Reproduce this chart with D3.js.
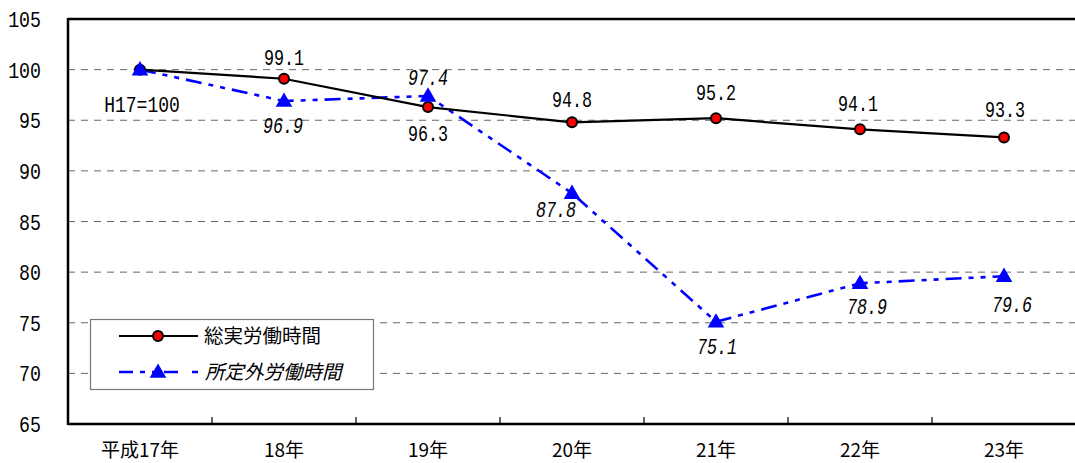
<!DOCTYPE html>
<html>
<head>
<meta charset="utf-8">
<script src="https://cdn.jsdelivr.net/npm/d3@7"></script>
<style>
  html, body { margin: 0; padding: 0; background: #fff; }
  svg { display: block; }
</style>
</head>
<body>
<svg id="chart" width="1075" height="463"></svg>
<script>
// ---- data ----
const categories = ["平成17年", "18年", "19年", "20年", "21年", "22年", "23年"];
const totalHours = [100, 99.1, 96.3, 94.8, 95.2, 94.1, 93.3];        // 総実労働時間 (H17=100)
const overtimeHours = [100, 96.9, 97.4, 87.8, 75.1, 78.9, 79.6];     // 所定外労働時間 (H17=100)
const yTicks = [65, 70, 75, 80, 85, 90, 95, 100, 105];
const seriesNames = ["総実労働時間", "所定外労働時間"];
const baseLabel = "H17=100";

// ---- layout ----
const W = 1075, H = 463;
const plot = { left: 68, top: 19, right: 1076, bottom: 424 };
const NUM_FONT = "'Liberation Mono', 'DejaVu Sans Mono', monospace";
const JP_FONT = "'Noto Sans CJK JP', 'Noto Sans', sans-serif";

const svg = d3.select("#chart");

const x = d3.scaleBand().domain(categories).range([plot.left, plot.right]).padding(0);
const cx = c => x(c) + x.bandwidth() / 2;
const y = d3.scaleLinear().domain([65, 105]).range([plot.bottom, plot.top]);

// condensed numeric text helper
function numText(g, px, py, str, opt = {}) {
  const sx = opt.sx || 0.76;
  return g.append("text")
    .attr("transform", `translate(${px},${py}) scale(${sx},1)`)
    .attr("text-anchor", opt.anchor || "middle")
    .attr("font-family", NUM_FONT)
    .attr("font-size", opt.size || 22)
    .attr("font-style", opt.italic ? "italic" : "normal")
    .attr("fill", "#000")
    .text(str);
}

// ---- gridlines ----
svg.append("g")
  .selectAll("line")
  .data(yTicks.filter(v => v > 65 && v < 105))
  .join("line")
  .attr("x1", plot.left).attr("x2", plot.right)
  .attr("y1", d => y(d)).attr("y2", d => y(d))
  .attr("stroke", "#666")
  .attr("stroke-width", 1)
  .attr("stroke-dasharray", "7,6");

// ---- frame ----
svg.append("line")
  .attr("x1", plot.left).attr("x2", plot.right)
  .attr("y1", plot.top).attr("y2", plot.top)
  .attr("stroke", "#000").attr("stroke-width", 2.5);
svg.append("line")
  .attr("x1", plot.left).attr("x2", plot.left)
  .attr("y1", plot.top - 1).attr("y2", plot.bottom + 1)
  .attr("stroke", "#000").attr("stroke-width", 2.5);
svg.append("line")
  .attr("x1", plot.left).attr("x2", plot.right)
  .attr("y1", plot.bottom).attr("y2", plot.bottom)
  .attr("stroke", "#000").attr("stroke-width", 2.5);

// category boundary ticks on the x axis
svg.append("g")
  .selectAll("line")
  .data(categories.slice(1))
  .join("line")
  .attr("x1", d => x(d)).attr("x2", d => x(d))
  .attr("y1", plot.bottom).attr("y2", plot.bottom - 7)
  .attr("stroke", "#000").attr("stroke-width", 1.2);

// ---- y tick labels ----
const yLab = svg.append("g");
yTicks.forEach(v => numText(yLab, 41, y(v) + 8, String(v), { anchor: "end", sx: 0.83 }));

// ---- x category labels ----
svg.append("g")
  .selectAll("text")
  .data(categories)
  .join("text")
  .attr("x", d => cx(d))
  .attr("y", 457)
  .attr("text-anchor", "middle")
  .attr("font-family", JP_FONT)
  .attr("font-size", 19)
  .attr("fill", "#000")
  .text(d => d);

// ---- legend box ----
const leg = svg.append("g");
leg.append("rect")
  .attr("x", 90.5).attr("y", 319.5).attr("width", 283).attr("height", 70)
  .attr("fill", "#fff").attr("stroke", "#777").attr("stroke-width", 1.2);

// ---- series ----
const totalPts = categories.map((c, i) => [cx(c), y(totalHours[i])]);
const overPts = categories.map((c, i) => [cx(c), y(overtimeHours[i])]);
const line = d3.line();
const blueDash = "16,7,5,7,5,7";

svg.append("path")
  .attr("d", line(overPts))
  .attr("fill", "none")
  .attr("stroke", "#0000ff")
  .attr("stroke-width", 2.6)
  .attr("stroke-dasharray", blueDash);

svg.append("path")
  .attr("d", line(totalPts))
  .attr("fill", "none")
  .attr("stroke", "#000")
  .attr("stroke-width", 2.2);

const tri = d3.symbol().type(d3.symbolTriangle).size(120);

svg.append("g")
  .selectAll("circle")
  .data(totalPts)
  .join("circle")
  .attr("cx", d => d[0]).attr("cy", d => d[1])
  .attr("r", 5)
  .attr("fill", "#ff0000")
  .attr("stroke", "#000")
  .attr("stroke-width", 2);

svg.append("g")
  .selectAll("path")
  .data(overPts)
  .join("path")
  .attr("d", tri)
  .attr("transform", d => `translate(${d[0]},${d[1] + 1})`)
  .attr("fill", "#0000ff");

// ---- data labels ----
const fmt = d3.format(".1f");
// label offsets (dx, baseline dy) relative to each marker
const totalOffsets = [[2, 42], [0, -14], [0, 34], [0, -15], [0, -18], [-2, -18], [1, -20]];
const overOffsets = [[0, 0], [-1, 32], [0, -11], [-16, 24], [1, 32], [7, 31], [8, 36]];

const labG = svg.append("g");
totalPts.forEach((p, i) => {
  const str = i === 0 ? baseLabel : fmt(totalHours[i]);
  numText(labG, p[0] + totalOffsets[i][0], p[1] + totalOffsets[i][1], str, { sx: i === 0 ? 0.82 : 0.76 });
});
overPts.forEach((p, i) => {
  if (i === 0) return; // base year shares the H17=100 label
  numText(labG, p[0] + overOffsets[i][0], p[1] + overOffsets[i][1], fmt(overtimeHours[i]), { italic: true });
});

// ---- legend entries ----
const ly1 = 336, ly2 = 372;
leg.append("line").attr("x1", 119).attr("x2", 198).attr("y1", ly1).attr("y2", ly1)
  .attr("stroke", "#000").attr("stroke-width", 2.2);
leg.append("circle").attr("cx", 158).attr("cy", ly1).attr("r", 5)
  .attr("fill", "#ff0000").attr("stroke", "#000").attr("stroke-width", 2);
leg.append("text").attr("x", 204).attr("y", ly1 + 7)
  .attr("font-family", JP_FONT).attr("font-size", 19.5).attr("fill", "#000")
  .text(seriesNames[0]);

leg.append("line").attr("x1", 119).attr("x2", 198).attr("y1", ly2).attr("y2", ly2)
  .attr("stroke", "#0000ff").attr("stroke-width", 2.6).attr("stroke-dasharray", "14,7,5,7,5,7,14");
leg.append("path").attr("d", tri).attr("transform", `translate(158,${ly2 + 1})`).attr("fill", "#0000ff");
leg.append("text").attr("x", 205).attr("y", ly2 + 7)
  .attr("font-family", JP_FONT).attr("font-size", 19.5).attr("font-style", "italic").attr("fill", "#000")
  .text(seriesNames[1]);
</script>
</body>
</html>
